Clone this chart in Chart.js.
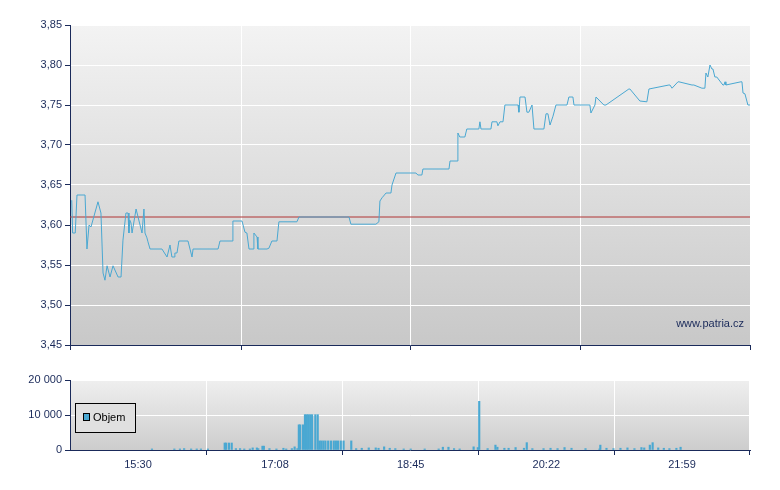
<!DOCTYPE html>
<html>
<head>
<meta charset="utf-8">
<script src="https://cdn.jsdelivr.net/npm/chart.js@4.4.1/dist/chart.umd.min.js"></script>
<style>
  body { margin: 0; background: #fff; width: 780px; height: 490px; overflow: hidden; }
  #priceWrap { position: absolute; left: 0; top: 0; width: 780px; height: 370px; }
  #volWrap { position: absolute; left: 0; top: 370px; width: 780px; height: 120px; }
</style>
</head>
<body>
<div id="priceWrap"><canvas id="priceChart"></canvas></div>
<div id="volWrap"><canvas id="volChart"></canvas></div>
<script>
// minuty od 15:30
const timeTicks = [0, 98, 195, 292, 389];
const timeLabels = ['15:30', '17:08', '18:45', '20:22', '21:59'];
const refPrice = 3.61;

const priceTimes = [1, 1.5, 3, 4, 8.6, 9.7, 10.9, 12, 16, 17.7, 18.9, 20, 21.2, 21.7, 22.9, 24.6, 27.5, 29.2, 30.3, 32,
  33.2, 33.7, 34.2, 34.9, 35.5, 37.8, 41.2, 42.3, 42.9, 44, 44.6, 45.8, 52.6, 55.5, 57.2, 58.3, 59.5, 60, 61.2, 62.3,
  67.5, 69.8, 70.4, 84.7, 85.8, 92.7, 93.2, 98.4, 100.1, 101.2, 102.4, 104.7, 105.2, 107, 107.5, 112.7, 113.8, 115.5, 118.4, 119.5,
  129.8, 131, 159.6, 160.7, 175, 176.7, 177.3, 178.5, 180.8, 183.6, 184.2, 186.5, 197.9, 199, 201.3, 201.9, 216.8, 217.4, 221.4, 221.9,
  223, 225.9, 227, 233.9, 234.5, 235.1, 240.8, 241.4, 244.2, 244.8, 246, 247.7, 248.8, 256.3, 256.8, 257.4, 260.3, 261.4, 262.5, 264.3,
  265.4, 271.1, 272.3, 273.4, 274.6, 276.3, 278, 284.3, 285.4, 287.7, 288.3, 297.4, 298, 300.3, 300.9, 305.4, 306.6, 319.7, 320.3, 326,
  330, 331.2, 342.6, 343.2, 344.4, 347.8, 348.3, 355.8, 356.9, 361.5, 363.2, 363.8, 364.9, 366.1, 367.2, 367.8, 368.9, 370, 373.5, 374.1,
  374.7, 375.2, 383.8, 384.4, 385, 386.1, 387.8, 389];
const priceValues = [3.631, 3.59, 3.59, 3.6375, 3.6375, 3.57, 3.60, 3.5975, 3.629, 3.615, 3.54, 3.531, 3.549, 3.549, 3.535, 3.549, 3.535, 3.535, 3.581, 3.615,
  3.615, 3.59, 3.606, 3.6025, 3.59, 3.62, 3.59, 3.62, 3.59, 3.584, 3.579, 3.57, 3.57, 3.56, 3.575, 3.56, 3.56, 3.565, 3.565, 3.58,
  3.58, 3.56, 3.57, 3.57, 3.58, 3.58, 3.605, 3.605, 3.591, 3.59, 3.57, 3.57, 3.59, 3.585, 3.57, 3.57, 3.571, 3.58, 3.58, 3.604,
  3.604, 3.61, 3.61, 3.601, 3.601, 3.604, 3.63, 3.634, 3.64, 3.64, 3.65, 3.665, 3.665, 3.6625, 3.6625, 3.67, 3.67, 3.68, 3.68, 3.715,
  3.71, 3.71, 3.72, 3.72, 3.729, 3.72, 3.72, 3.729, 3.729, 3.724, 3.729, 3.729, 3.75, 3.75, 3.741, 3.76, 3.76, 3.741, 3.741, 3.75,
  3.72, 3.72, 3.739, 3.739, 3.725, 3.736, 3.75, 3.75, 3.76, 3.76, 3.75, 3.75, 3.74, 3.75, 3.76, 3.75, 3.75, 3.77, 3.77, 3.755,
  3.754, 3.77, 3.775, 3.775, 3.771, 3.779, 3.779, 3.775, 3.775, 3.771, 3.771, 3.79, 3.785, 3.80, 3.795, 3.795, 3.785, 3.785, 3.775, 3.775,
  3.779, 3.775, 3.779, 3.779, 3.765, 3.764, 3.75, 3.75, 3.745];

const volTimes = [10, 26, 30, 33, 38, 42, 45, 50, 62, 63, 65, 67, 70, 73, 76, 80, 82, 85, 86, 89, 90, 94, 99, 104, 106, 110, 112, 114,
  115, 116, 118, 119.4, 120.6, 121.7, 123.1, 124.5, 126.8, 128.5, 129.7, 131, 132.5, 134, 136, 138, 140, 141.5, 143, 145, 147, 152.5,
  156, 160, 165, 170, 172, 176, 180, 184, 190, 195, 205, 215, 218, 222, 226, 230, 240, 243, 244, 250, 255.6, 257, 262, 265, 270, 276, 278,
  282, 290, 295, 300, 305, 310, 320, 330, 330.6, 335, 340, 345, 350, 355, 360, 362, 366, 368, 372, 376, 380, 385, 388];
const volValues = [300, 300, 300, 400, 300, 300, 300, 300, 2000, 2000, 2000, 2000, 400, 400, 300, 300, 600, 600, 400, 1100, 1100, 400, 300, 500, 300, 400, 900, 400,
  7200, 7200, 7200, 10100, 10100, 10100, 10100, 10100, 10100, 10100, 2600, 2600, 2600, 2600, 2600, 2600, 2600, 2600, 2600, 2600, 2600, 2600,
  400, 500, 600, 600, 500, 900, 500, 400, 300, 300, 300, 300, 800, 800, 400, 300, 900, 700, 13900, 400, 1400, 800, 500, 500, 700, 500, 2100,
  400, 400, 500, 400, 700, 500, 400, 300, 1400, 500, 400, 500, 600, 400, 700, 600, 1400, 2100, 600, 500, 400, 500, 800];

const navy = '#1a2a5a';
const lineBlue = '#4aa8d2';
const priceData = priceTimes.map((t, i) => ({ x: t, y: priceValues[i] }));
const volData = volTimes.map((t, i) => ({ x: t, y: volValues[i] }));

const bgPlugin = (top, bottom) => ({
  id: 'bg',
  beforeDraw(chart) {
    const { ctx, chartArea: a } = chart;
    const g = ctx.createLinearGradient(0, a.top, 0, a.bottom);
    g.addColorStop(0, top);
    g.addColorStop(1, bottom);
    ctx.save();
    ctx.fillStyle = g;
    ctx.fillRect(a.left, a.top, a.right - a.left, a.bottom - a.top);
    ctx.restore();
  }
});

const watermark = {
  id: 'watermark',
  afterDraw(chart) {
    const { ctx, chartArea: a } = chart;
    ctx.save();
    ctx.font = '11px Arial, "Liberation Sans", sans-serif';
    ctx.fillStyle = navy;
    ctx.textAlign = 'right';
    ctx.fillText('www.patria.cz', a.right - 6, a.bottom - 18);
    ctx.restore();
  }
};

const volLegend = {
  id: 'volLegend',
  afterDraw(chart) {
    const { ctx, chartArea: a } = chart;
    const x = a.left + 5, y = a.top + 23;
    ctx.save();
    ctx.fillStyle = '#e0e0e0';
    ctx.fillRect(x, y, 60, 29);
    ctx.strokeStyle = '#000';
    ctx.lineWidth = 1;
    ctx.strokeRect(x + 0.5, y + 0.5, 60, 29);
    ctx.fillStyle = lineBlue;
    ctx.fillRect(x + 8, y + 10, 7, 8);
    ctx.strokeStyle = '#000';
    ctx.strokeRect(x + 8.5, y + 10.5, 6, 7);
    ctx.fillStyle = '#000';
    ctx.font = '11px Arial, "Liberation Sans", sans-serif';
    ctx.textBaseline = 'middle';
    ctx.fillText('Objem', x + 18, y + 15);
    ctx.restore();
  }
};

const tickFont = { family: 'Arial, "Liberation Sans", sans-serif', size: 11 };

function xScale(showLabels, height) {
  return {
    type: 'linear', min: 0, max: 389,
    afterBuildTicks: s => { s.ticks = timeTicks.map(v => ({ value: v })); },
    afterFit: s => { s.height = height; },
    border: { color: navy, width: 1 },
    grid: { color: '#ffffff', lineWidth: 1, tickColor: navy, tickLength: 5 },
    ticks: {
      display: showLabels, color: navy, font: tickFont, maxRotation: 0, autoSkip: false,
      callback: v => timeLabels[timeTicks.indexOf(v)]
    }
  };
}

new Chart(document.getElementById('priceChart'), {
  type: 'line',
  data: {
    datasets: [
      { data: priceData, borderColor: lineBlue, borderWidth: 1, pointRadius: 0, tension: 0, order: 1 },
      { data: [{ x: 0, y: refPrice }, { x: 389, y: refPrice }], borderColor: '#b03434', borderWidth: 1, pointRadius: 0, order: 2 }
    ]
  },
  options: {
    responsive: true, maintainAspectRatio: false, animation: false,
    layout: { padding: { top: 25, right: 30, left: 0, bottom: 0 } },
    plugins: { legend: { display: false }, tooltip: { enabled: false } },
    scales: {
      x: xScale(false, 25),
      y: {
        min: 3.45, max: 3.85,
        afterFit: s => { s.width = 70; },
        border: { color: navy, width: 1 },
        grid: { color: '#ffffff', tickColor: navy, tickLength: 5 },
        ticks: { stepSize: 0.05, color: navy, font: tickFont, padding: 3, callback: v => v.toFixed(2).replace('.', ',') }
      }
    }
  },
  plugins: [bgPlugin('#f3f3f3', '#c8c8c8'), watermark]
});

new Chart(document.getElementById('volChart'), {
  type: 'bar',
  data: {
    datasets: [{ data: volData, backgroundColor: lineBlue, barThickness: 1.5, borderWidth: 0 }]
  },
  options: {
    responsive: true, maintainAspectRatio: false, animation: false,
    layout: { padding: { top: 10, right: 30, left: 0, bottom: 0 } },
    plugins: { legend: { display: false }, tooltip: { enabled: false } },
    scales: {
      x: xScale(true, 40),
      y: {
        min: 0, max: 20000,
        afterFit: s => { s.width = 70; },
        border: { color: navy, width: 1 },
        grid: { color: '#ffffff', tickColor: navy, tickLength: 5 },
        ticks: { stepSize: 10000, color: navy, font: tickFont, padding: 3, callback: v => v.toLocaleString('cs-CZ').replace(/\s/g, ' ') }
      }
    }
  },
  plugins: [bgPlugin('#efefef', '#cdcdcd'), volLegend]
});
</script>
</body>
</html>
